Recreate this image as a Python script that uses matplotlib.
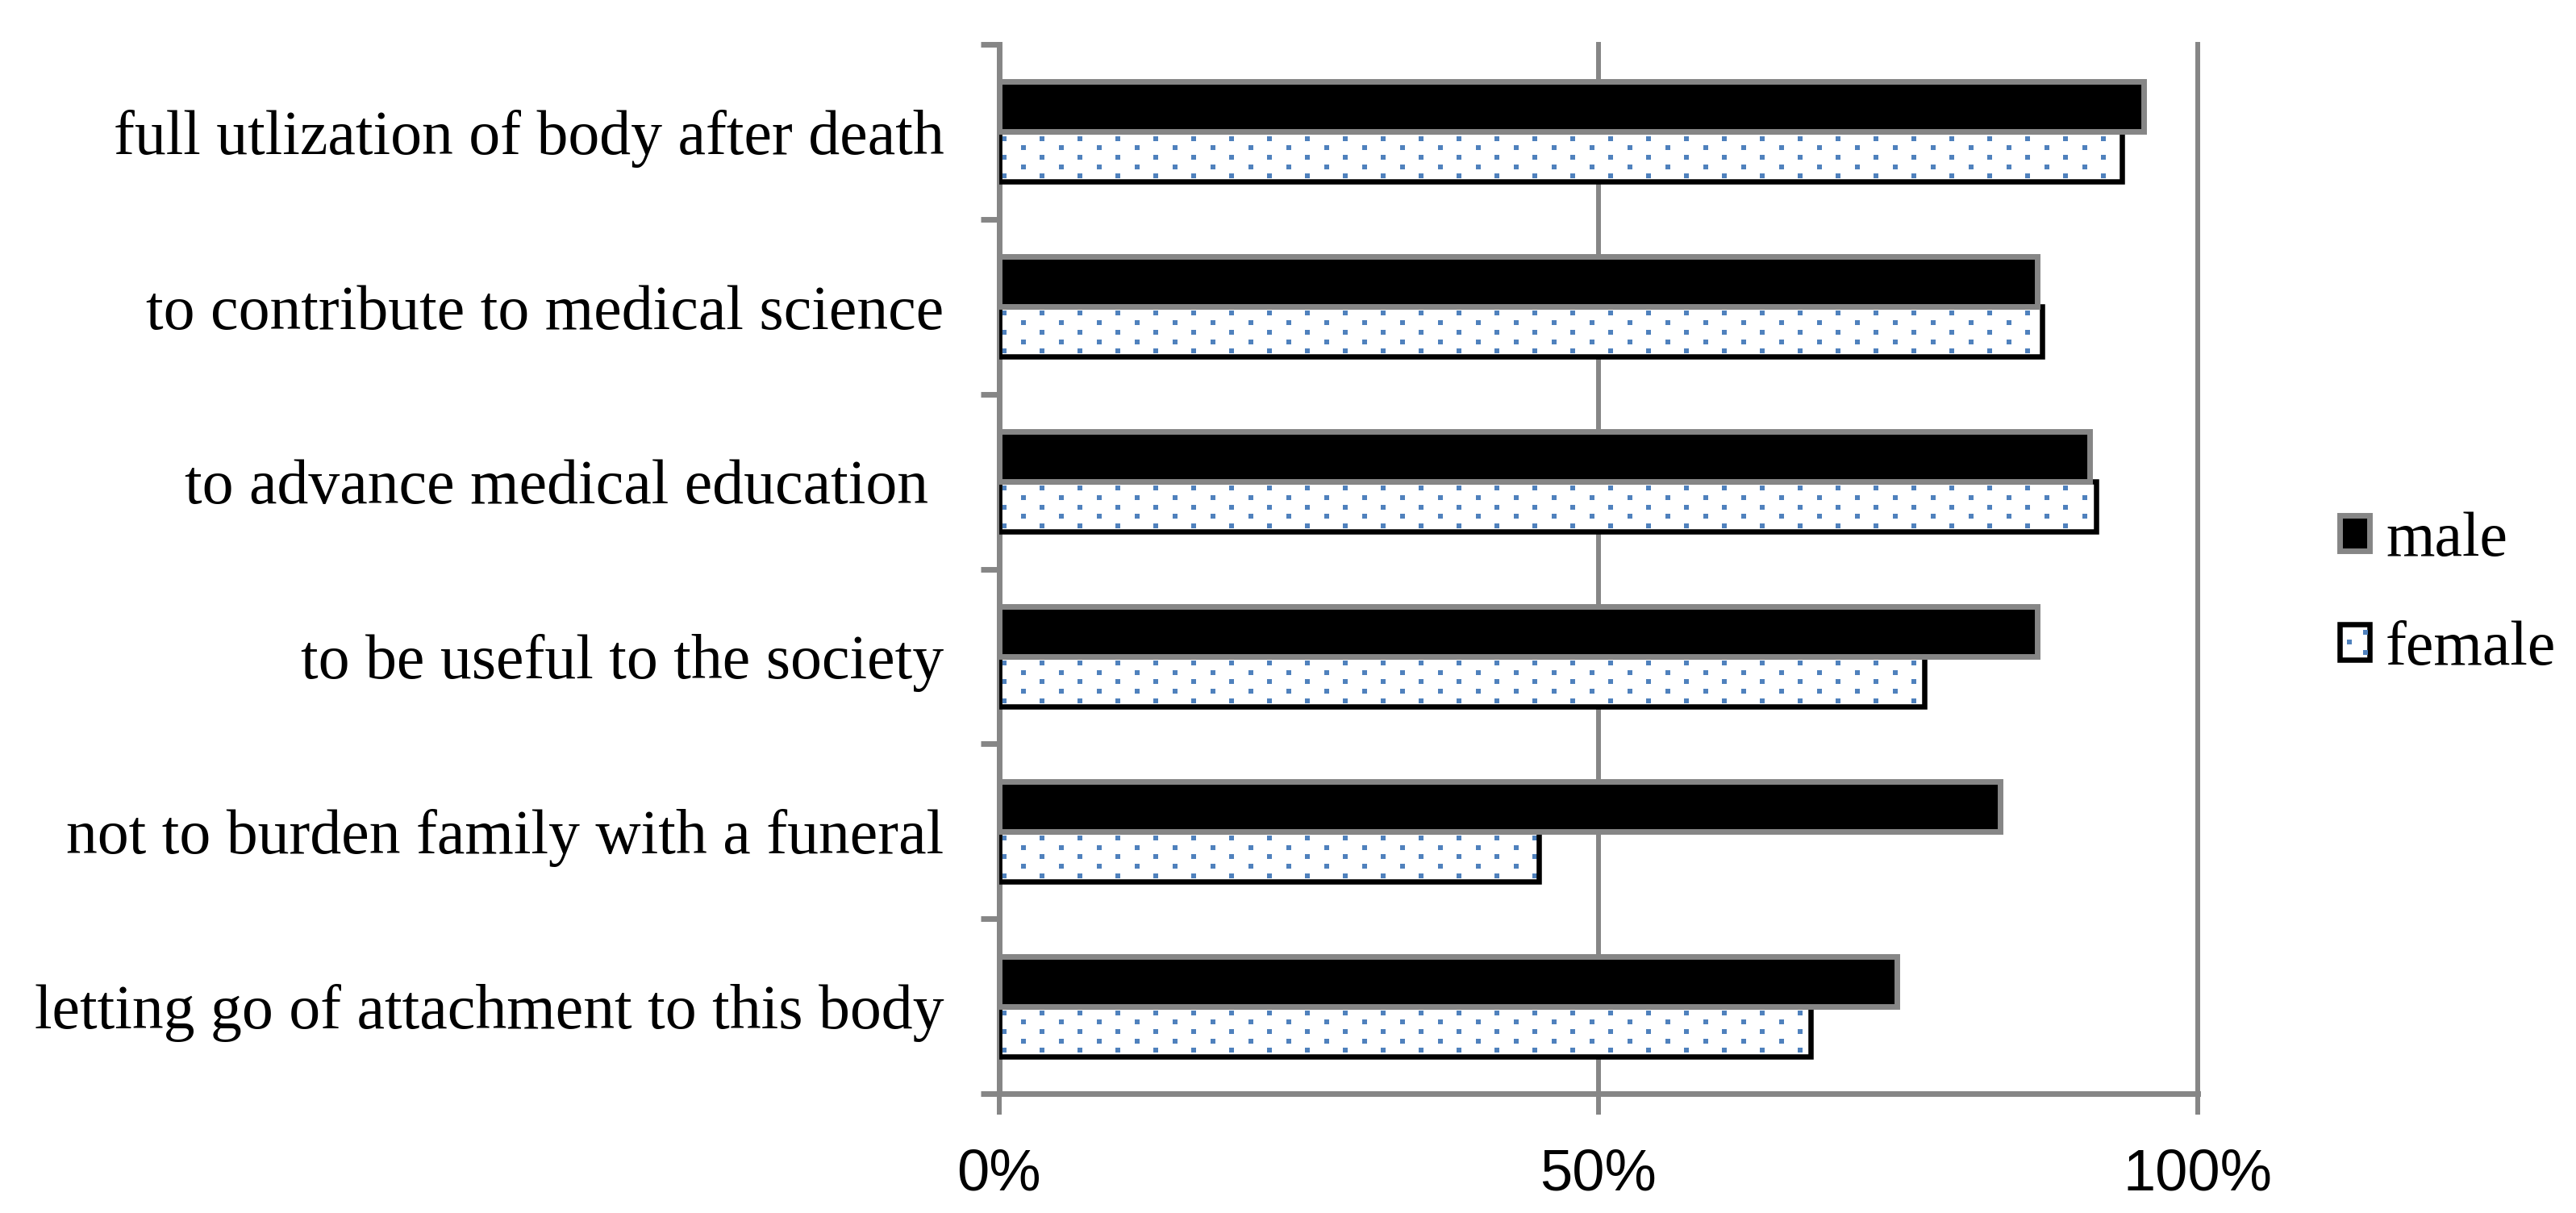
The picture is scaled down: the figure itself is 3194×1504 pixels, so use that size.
import numpy as np
import matplotlib.pyplot as plt
from matplotlib.patches import Patch, Rectangle
from matplotlib.lines import Line2D

# categories listed top to bottom as in the chart
categories = [
    "full utlization of body after death",
    "to contribute to medical science",
    "to advance medical education ",
    "to be useful to the society",
    "not to burden family with a funeral",
    "letting go of attachment to this body",
]
male = [0.955, 0.866, 0.910, 0.866, 0.835, 0.749]
female = [0.937, 0.870, 0.915, 0.772, 0.450, 0.677]
series_names = ["male", "female"]
tick_vals = [0, 0.5, 1.0]
tick_labels = ["0%", "50%", "100%"]

GRAY = "#868686"
BLUE = "#4F81BD"
SERIF = "Liberation Serif"
SANS = "Liberation Sans"


class DottedHandler:
    # legend key for the female series: white box, black outline, a few blue dots
    def legend_artist(self, legend, orig_handle, fontsize, handlebox):
        x0, y0 = handlebox.xdescent, handlebox.ydescent
        w, hh = handlebox.width, handlebox.height
        tr = handlebox.get_transform()
        box = Rectangle((-x0, -y0), w, hh, facecolor="white", edgecolor="black",
                        lw=4.7, transform=tr)
        handlebox.add_artist(box)
        pts = Line2D([-x0 + 0.33 * w, -x0 + 0.85 * w, -x0 + 0.85 * w],
                     [-y0 + 0.5 * hh, -y0 + 0.22 * hh, -y0 + 0.78 * hh],
                     ls="none", marker="s", ms=4.3, mew=0, color=BLUE, transform=tr)
        handlebox.add_artist(pts)
        return box


fig = plt.figure(figsize=(31.94, 15.04), dpi=100)
ax = fig.add_axes([0.3878, 0.0984, 0.4654, 0.8650])

n = len(categories)
y = np.arange(n)[::-1]
h = 0.286

# female bars: white fill, then dot texture, then black outline
fem_fill = ax.barh(y - h / 2, female, height=h, color="white", edgecolor="none", zorder=2)
row_frac = [0.132, 0.319, 0.508, 0.697, 0.884]
period = 0.03162
for bar, val in zip(fem_fill, female):
    top = bar.get_y() + bar.get_height()
    for r, f in enumerate(row_frac):
        start = 0.0044 if r % 2 == 0 else 0.0205
        xs = np.arange(start, val + period, period)
        ys = np.full(len(xs), top - f * h)
        dots, = ax.plot(xs, ys, ls="none", marker="s", ms=4.3, mew=0, color=BLUE, zorder=2.5)
        dots.set_clip_path(bar)
ax.barh(y - h / 2, female, height=h, facecolor="none", edgecolor="black", lw=4.7, zorder=3)

# male bars on top
ax.barh(y + h / 2, male, height=h, color="black", edgecolor=GRAY, lw=5, zorder=4)

ax.set_xlim(0, 1)
ax.set_ylim(-0.5, n - 0.5)
ax.set_xticks(tick_vals)
ax.set_xticklabels(tick_labels, fontsize=52, family=SANS)
ax.set_yticks(y)
ax.set_yticklabels(categories, fontsize=56, family=SERIF)
ax.set_yticks(np.arange(n + 1) - 0.5, minor=True)

ax.tick_params(axis="y", which="major", length=0, pad=49)
ax.tick_params(axis="y", which="minor", length=16.6, width=5, color=GRAY, direction="out")
ax.tick_params(axis="x", which="major", length=18.7, width=4.3, color=GRAY, pad=30)

ax.set_axisbelow(True)
ax.grid(axis="x", color=GRAY, lw=4.3)
for line in ax.get_xgridlines():
    line.set_clip_on(False)

for s in ["top", "right"]:
    ax.spines[s].set_visible(False)
for s in ["left", "bottom"]:
    ax.spines[s].set_color(GRAY)
    ax.spines[s].set_linewidth(5)

male_key = Patch(facecolor="black", edgecolor=GRAY, lw=5)
female_key = Patch(facecolor="white", edgecolor="black", lw=4.7)
fig.legend([male_key, female_key], series_names, loc="center left",
           bbox_to_anchor=(0.9083, 0.5097), frameon=False,
           prop={"family": SERIF, "size": 56},
           handler_map={female_key: DottedHandler()},
           handlelength=0.48, handleheight=0.5, handletextpad=0.25,
           labelspacing=0.82, borderpad=0, borderaxespad=0)

fig.savefig("out.png", dpi=100)
